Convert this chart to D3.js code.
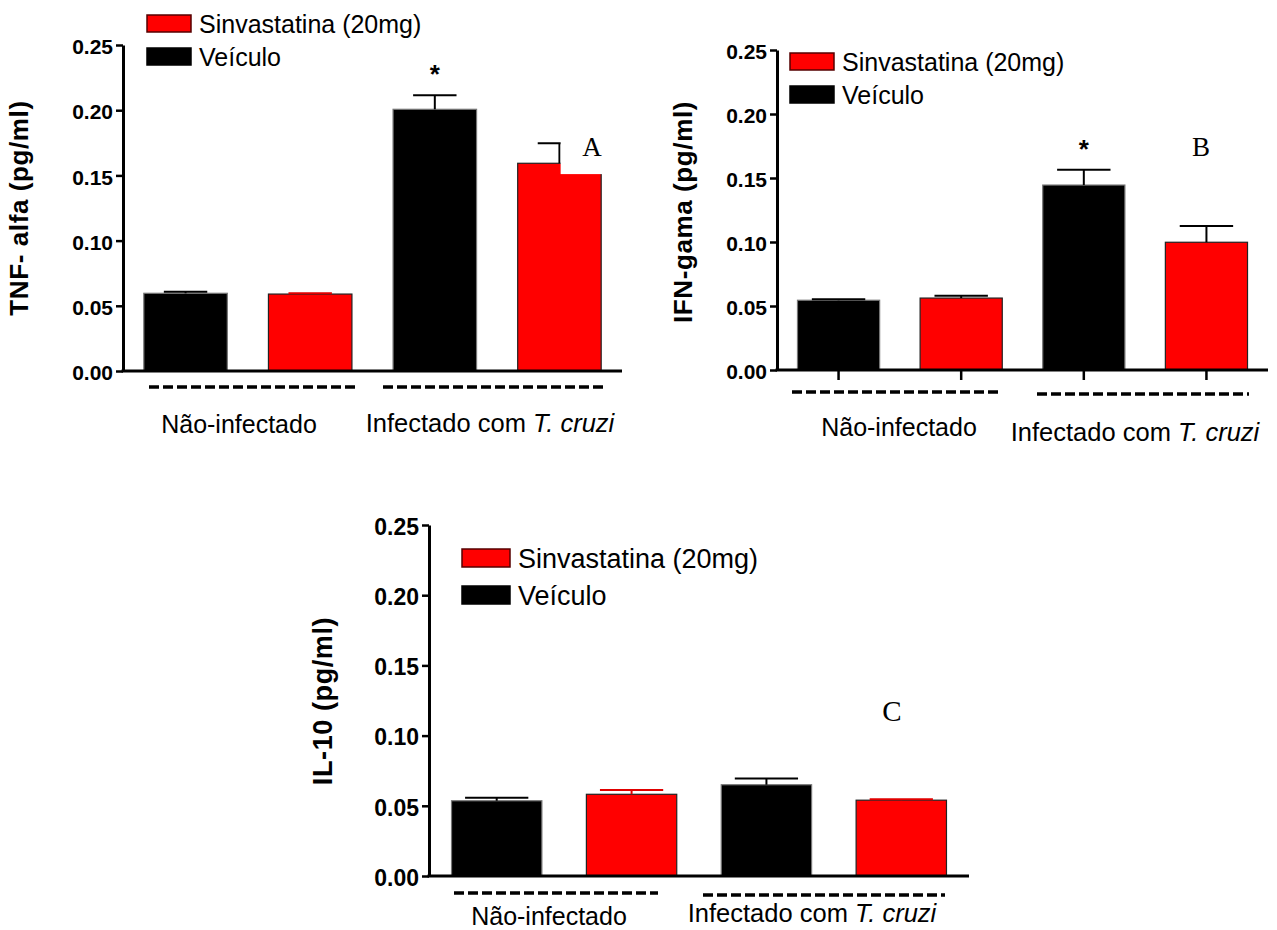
<!DOCTYPE html>
<html>
<head>
<meta charset="utf-8">
<script src="https://cdn.jsdelivr.net/npm/d3@7"></script>
<style>
  body { margin: 0; background: #fff; }
  text { font-family: "Liberation Sans", Arial, sans-serif; }
</style>
</head>
<body>
<div id="chart"></div>
<script>
// Data
var barKeys = ["ni_veic", "ni_sinva", "inf_veic", "inf_sinva"];
var barSeries = ["veic", "sinva", "veic", "sinva"];
var groupNames = ["Não-infectado", "Infectado com"];
var legendNames = ["Sinvastatina (20mg)", "Veículo"];
var yTicks = [0, 0.05, 0.10, 0.15, 0.20, 0.25];

var tnfMean = [0.0596, 0.0590, 0.2007, 0.1593];
var tnfTop  = [0.0608, 0.0596, 0.2114, 0.1746];
var ifnMean = [0.0545, 0.0562, 0.1445, 0.0998];
var ifnTop  = [0.0553, 0.0580, 0.1565, 0.1125];
var il10Mean = [0.0536, 0.0582, 0.0650, 0.0540];
var il10Top  = [0.0557, 0.0612, 0.0695, 0.0546];

var colors = { veic: "#000000", sinva: "#ff0000" };

// Set the dimensions of the page
var W = 1277, H = 930;
var svg = d3.select("#chart")
  .append("svg")
    .attr("width", W)
    .attr("height", H);

svg.append("rect").attr("width", W).attr("height", H).attr("fill", "#fff");

// layout of each panel
var panels = [
  { title: "TNF- alfa (pg/ml)", mean: tnfMean, top: tnfTop, errCol: ["#000", "#e00000", "#000", "#000"],
    left: 123, right: 622, y0: 371, y25: 45, tick: 21, titleSize: 26, titleX: 28, titleY: 208,
    legX: 147, legY: [15, 48], legW: 44, legH: 17, legFont: 25,
    dashY: [387, 387], dashX: [[149, 355], [383, 604]],
    labX: [239, 490], labY: [433, 432], capFrac: 0.52, xTicks: false,
    star: { bar: 2, y: 83 }, letter: { t: "A", x: 592, y: 156, size: 27 }, box: { bar: 3, bottom: 0.151, top: 0.185 } },
  { title: "IFN-gama (pg/ml)", mean: ifnMean, top: ifnTop, errCol: ["#000", "#000", "#000", "#000"],
    left: 777, right: 1268, y0: 370, y25: 50, tick: 21, titleSize: 26, titleX: 692, titleY: 212,
    legX: 790, legY: [53, 86], legW: 44, legH: 17, legFont: 25,
    dashY: [392, 394], dashX: [[792, 1002], [1037, 1249]],
    labX: [899, 1135], labY: [436, 441], capFrac: 0.65, xTicks: true,
    star: { bar: 2, y: 158 }, letter: { t: "B", x: 1201, y: 156, size: 27 } },
  { title: "IL-10 (pg/ml)", mean: il10Mean, top: il10Top, errCol: ["#000", "#e00000", "#000", "#e00000"],
    left: 429, right: 969, y0: 876, y25: 525, tick: 23, titleSize: 27, titleX: 332, titleY: 701,
    legX: 462, legY: [549, 586], legW: 48, legH: 18, legFont: 27,
    dashY: [893, 895], dashX: [[454, 658], [703, 945]],
    labX: [549, 812], labY: [925, 922], capFrac: 0.7, xTicks: false,
    letter: { t: "C", x: 892, y: 721, size: 29 } }
];

panels.forEach(function(p) {
  var g = svg.append("g");

  var x = d3.scaleBand()
    .domain(barKeys)
    .range([p.left, p.right])
    .paddingInner(0.33)
    .paddingOuter(0.167);

  var y = d3.scaleLinear()
    .domain([0, 0.25])
    .range([p.y0, p.y25]);

  // bars
  g.selectAll(".bar")
    .data(barKeys)
    .enter().append("rect")
      .attr("x", function(d) { return x(d); })
      .attr("width", x.bandwidth())
      .attr("y", function(d, i) { return y(p.mean[i]); })
      .attr("height", function(d, i) { return y(0) - y(p.mean[i]); })
      .attr("fill", function(d, i) { return colors[barSeries[i]]; })
      .attr("stroke", function(d, i) { return barSeries[i] == "veic" ? "#777" : "#222"; })
      .attr("stroke-width", 1.2);

  // error bars (upper only)
  var capW = x.bandwidth() * p.capFrac;
  barKeys.forEach(function(d, i) {
    var cx = x(d) + x.bandwidth() / 2;
    g.append("line")
      .attr("x1", cx).attr("x2", cx)
      .attr("y1", y(p.mean[i])).attr("y2", y(p.top[i]))
      .attr("stroke", p.errCol[i]).attr("stroke-width", 2);
    g.append("line")
      .attr("x1", cx - capW / 2).attr("x2", cx + capW / 2)
      .attr("y1", y(p.top[i])).attr("y2", y(p.top[i]))
      .attr("stroke", p.errCol[i]).attr("stroke-width", 2);
  });

  // white label box that hides part of the bar (as in the original)
  if (p.box) {
    var bk = barKeys[p.box.bar];
    var bcx = x(bk) + x.bandwidth() / 2;
    g.append("rect")
      .attr("x", bcx + 1.2)
      .attr("y", y(p.box.top))
      .attr("width", x(bk) + x.bandwidth() - bcx + 12)
      .attr("height", y(p.box.bottom) - y(p.box.top))
      .attr("fill", "#fff");
  }

  // Y axis
  var yAxis = g.append("g")
    .attr("transform", "translate(" + p.left + ",0)")
    .call(d3.axisLeft(y).tickValues(yTicks).tickFormat(d3.format(".2f")).tickSize(7).tickSizeOuter(0).tickPadding(3));
  yAxis.select(".domain").attr("stroke-width", 3);
  yAxis.selectAll(".tick line").attr("stroke-width", 2.5);
  yAxis.selectAll(".tick text")
    .style("font-family", '"Liberation Sans", Arial, sans-serif')
    .style("font-weight", "bold")
    .style("font-size", p.tick + "px")
    .attr("y", 2)
    .attr("fill", "#000");

  // X axis line
  g.append("line")
    .attr("x1", p.left - 1.5).attr("x2", p.right)
    .attr("y1", y(0)).attr("y2", y(0))
    .attr("stroke", "#000").attr("stroke-width", 3);

  if (p.xTicks) {
    barKeys.forEach(function(d) {
      var cx = x(d) + x.bandwidth() / 2;
      g.append("line")
        .attr("x1", cx).attr("x2", cx)
        .attr("y1", y(0)).attr("y2", y(0) + 10)
        .attr("stroke", "#000").attr("stroke-width", 2.5);
    });
  }

  // Y axis title
  g.append("text")
    .attr("transform", "translate(" + p.titleX + "," + p.titleY + ") rotate(-90)")
    .attr("text-anchor", "middle")
    .style("font-weight", "bold")
    .style("font-size", p.titleSize + "px")
    .style("letter-spacing", "0.6px")
    .text(p.title);

  // dashed group lines
  p.dashX.forEach(function(d, i) {
    g.append("line")
      .attr("x1", d[0]).attr("x2", d[1])
      .attr("y1", p.dashY[i]).attr("y2", p.dashY[i])
      .attr("stroke", "#000").attr("stroke-width", 3.5)
      .attr("stroke-dasharray", "10,4");
  });

  // group labels
  g.append("text")
    .attr("x", p.labX[0]).attr("y", p.labY[0])
    .attr("text-anchor", "middle")
    .style("font-size", "25px")
    .text(groupNames[0]);
  var t2 = g.append("text")
    .attr("x", p.labX[1]).attr("y", p.labY[1])
    .attr("text-anchor", "middle")
    .style("font-size", "25.5px");
  t2.append("tspan").text(groupNames[1] + " ");
  t2.append("tspan").style("font-style", "italic").text("T. cruzi");

  // legend
  var legCols = [colors.sinva, colors.veic];
  legendNames.forEach(function(name, i) {
    g.append("rect")
      .attr("x", p.legX).attr("y", p.legY[i])
      .attr("width", p.legW).attr("height", p.legH)
      .attr("fill", legCols[i])
      .attr("stroke", i == 0 ? "#500" : "#000").attr("stroke-width", 1.5);
    g.append("text")
      .attr("x", p.legX + p.legW + 8)
      .attr("y", p.legY[i] + p.legH / 2 + p.legFont * 0.36)
      .style("font-size", p.legFont + "px")
      .text(name);
  });

  // significance star
  if (p.star) {
    var sk = barKeys[p.star.bar];
    g.append("text")
      .attr("x", x(sk) + x.bandwidth() / 2)
      .attr("y", p.star.y)
      .attr("text-anchor", "middle")
      .style("font-weight", "bold")
      .style("font-size", "26px")
      .text("*");
  }

  // panel letter
  g.append("text")
    .attr("x", p.letter.x).attr("y", p.letter.y)
    .attr("text-anchor", "middle")
    .style("font-family", '"Liberation Serif", "Times New Roman", serif')
    .style("font-size", p.letter.size + "px")
    .text(p.letter.t);
});
</script>
</body>
</html>
